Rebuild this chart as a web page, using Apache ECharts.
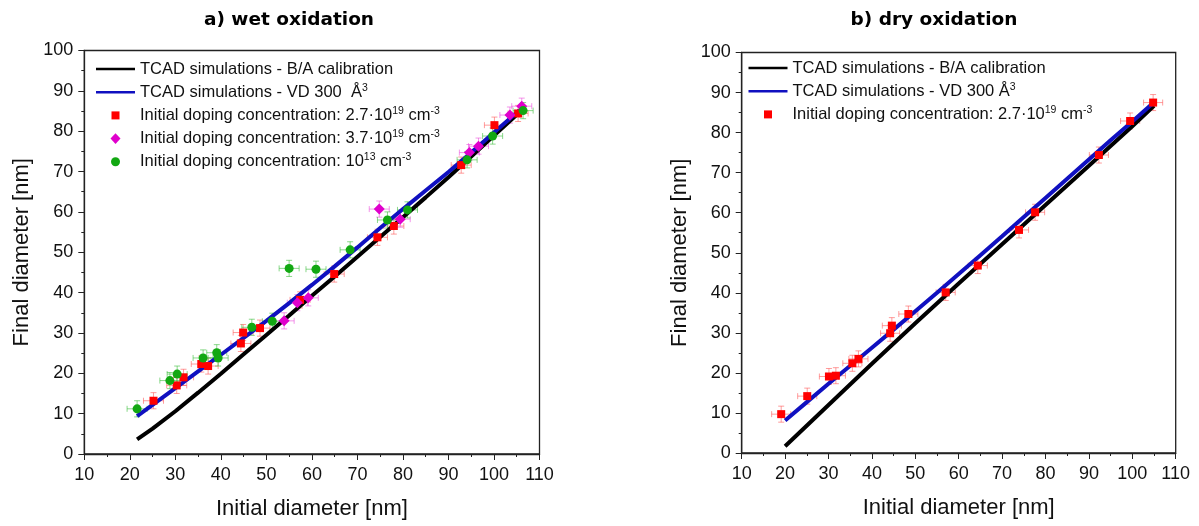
<!DOCTYPE html>
<html><head><meta charset="utf-8">
<script src="https://cdn.jsdelivr.net/npm/echarts@6/dist/echarts.min.js"></script>
<style>html,body{margin:0;padding:0;background:#fff}#c{width:1199px;height:526px}</style>
</head><body><div id="c"></div>
<script>
// ---------- a) wet oxidation ----------
const wetLineX   = [21.6,25,30,35,40,45,50,55,60,65,70,75,80,85,90,95,100,105.6];
const wetBAY     = [3.6,6.3,10.6,15.2,19.9,24.7,29.5,34.3,39.2,44.0,48.9,53.8,58.7,63.6,68.6,73.7,78.9,84.7];
const wetVDY     = [9.4,12.2,16.3,20.5,24.6,28.8,33.0,37.4,41.9,46.5,51.2,56.0,60.7,65.3,69.9,74.7,79.7,85.2];
const wetRedX    = [25.2,30.3,31.8,35.7,37.2,44.4,44.9,48.6,57.4,64.9,74.4,78.0,92.8,100.1,105.3];
const wetRedY    = [13.2,17.0,19.0,22.3,21.8,27.4,30.1,31.2,38.2,44.6,53.7,56.5,71.6,81.5,84.4];
const wetMagX    = [53.9,56.8,59.2,74.8,79.4,94.6,96.6,103.5,106.1];
const wetMagY    = [33.0,37.5,38.7,60.7,58.2,74.7,76.3,84.0,86.2];
const wetGreenX  = [21.6,28.8,30.4,36.1,39.1,39.4,46.8,51.3,55.0,60.9,68.4,76.6,81.0,94.1,99.7,106.4];
const wetGreenY  = [11.2,18.2,19.8,23.8,25.1,23.8,31.4,32.9,46.0,45.8,50.6,58.0,60.5,72.9,78.8,85.1];
// ---------- b) dry oxidation ----------
const dryBAX     = [20,30,40,50,60,70,80,90,100,105];
const dryBAY     = [1.7,12.0,22.3,32.4,42.3,52.1,61.9,71.7,81.6,86.7];
const dryVDX     = [20,25,30,35,40,45,50,55,60,65,70,75,80,85,90,95,100,105];
const dryVDY     = [8.1,12.7,17.3,21.8,26.3,30.8,35.4,40.0,44.7,49.4,54.1,58.9,63.7,68.5,73.3,78.1,82.8,87.6];
const dryRedX    = [19.1,25.1,30.1,31.7,35.5,36.9,44.2,44.6,48.4,57.0,64.4,73.9,77.6,92.3,99.5,104.8];
const dryRedY    = [9.7,14.2,19.1,19.3,22.4,23.5,29.9,31.8,34.7,40.1,46.8,55.7,60.1,74.4,82.9,87.5];
// error bars (nm)
const errX = [2.2];
const errY = [2.0];
// texts
const titles = ['a) wet oxidation', 'b) dry oxidation'];
const xName = 'Initial diameter [nm]';
const yName = 'Final diameter [nm]';
const nBA = 'TCAD simulations - B/A calibration';
const nVDa = 'TCAD simulations - VD 300  Å3';
const nVDb = 'TCAD simulations - VD 300 Å3';
const nRed = 'Initial doping concentration: 2.7·1019 cm-3';
const nMag = 'Initial doping concentration: 3.7·1019 cm-3';
const nGreen = 'Initial doping concentration: 1013 cm-3';
const richNames = {};
richNames[nBA] = nBA;
richNames[nVDa] = 'TCAD simulations - VD 300  Å{s|3}';
richNames[nVDb] = 'TCAD simulations - VD 300 Å{s|3}';
richNames[nRed] = 'Initial doping concentration: 2.7·10{s|19} cm{s|-3}';
richNames[nMag] = 'Initial doping concentration: 3.7·10{s|19} cm{s|-3}';
richNames[nGreen] = 'Initial doping concentration: 10{s|13} cm{s|-3}';

const FONT = '"Liberation Sans", Arial, sans-serif';
const zip = (a, b) => a.map((v, i) => [v, b[i]]);
const zipErr = (a, b) => a.map((v, i) => [v, b[i], errX[0], errY[0]]);

// legend icons (bounding box = full legend item box 39x11)
const BOX = 'path://M0,0M39,11';
const iconLine = BOX + 'M0,4.2L39,4.2L39,6.8L0,6.8Z';
const iconRect = BOX + 'M15.5,1.5L23.5,1.5L23.5,9.5L15.5,9.5Z';
const iconDiam = BOX + 'M19.5,0.2L24.5,5.5L19.5,10.8L14.5,5.5Z';
const iconCirc = BOX + 'M15,5.5A4.5,4.5,0,1,1,24,5.5A4.5,4.5,0,1,1,15,5.5Z';

function errBar(color) {
  return function (params, api) {
    const x = api.value(0), y = api.value(1), ex = api.value(2), ey = api.value(3);
    const l = api.coord([x - ex, y]), r = api.coord([x + ex, y]);
    const t = api.coord([x, y + ey]), b = api.coord([x, y - ey]);
    const c = 3;
    const st = { stroke: color, lineWidth: 1 };
    const seg = (x1, y1, x2, y2) => ({ type: 'line', shape: { x1, y1, x2, y2 }, style: st });
    return { type: 'group', children: [
      seg(l[0], l[1], r[0], r[1]),
      seg(l[0], l[1] - c, l[0], l[1] + c),
      seg(r[0], r[1] - c, r[0], r[1] + c),
      seg(t[0], t[1], b[0], b[1]),
      seg(t[0] - c, t[1], t[0] + c, t[1]),
      seg(b[0] - c, b[1], b[0] + c, b[1])
    ]};
  };
}

function xAxis(gi) {
  return {
    gridIndex: gi, type: 'value', min: 10, max: 110, interval: 10,
    name: xName, nameLocation: 'middle', nameGap: 44,
    nameTextStyle: { fontFamily: FONT, fontSize: 22, color: '#111' },
    axisLine: { lineStyle: { color: '#222', width: 1.3 } },
    axisTick: { length: 6, lineStyle: { color: '#222' } },
    minorTick: { show: true, splitNumber: 2, length: 3, lineStyle: { color: '#222' } },
    axisLabel: { fontFamily: FONT, fontSize: 18, color: '#111', margin: 12 },
    splitLine: { show: false }
  };
}
function yAxis(gi) {
  return {
    gridIndex: gi, type: 'value', min: 0, max: 100, interval: 10,
    name: yName, nameLocation: 'middle', nameGap: 51,
    nameTextStyle: { fontFamily: FONT, fontSize: 22, color: '#111' },
    axisLine: { show: true, lineStyle: { color: '#222', width: 1.3 } },
    axisTick: { show: true, length: 6, lineStyle: { color: '#222' } },
    minorTick: { show: true, splitNumber: 2, length: 3, lineStyle: { color: '#222' } },
    axisLabel: { fontFamily: FONT, fontSize: 18, color: '#111', margin: 11 },
    splitLine: { show: false }
  };
}
function legend(left, top, data) {
  return {
    orient: 'vertical', left: left, top: top, padding: 0,
    itemWidth: 39, itemHeight: 11, itemGap: 3.2,
    symbolKeepAspect: true,
    data: data,
    formatter: n => richNames[n],
    textStyle: { fontFamily: FONT, fontSize: 16.5, color: '#111', lineHeight: 20,
      rich: { s: { fontFamily: FONT, fontSize: 10.5, color: '#111', verticalAlign: 'top', lineHeight: 11 } } }
  };
}

const cBlack = '#000000', cBlue = '#1010c0', cRed = '#ff0000', cMag = '#e000cc', cGreen = '#12a812';
const lineS = (name, gi, x, y, color) => ({
  name, type: 'line', xAxisIndex: gi, yAxisIndex: gi, data: zip(x, y), symbol: 'none',
  lineStyle: { color, width: 4 }, itemStyle: { color }, z: 3, animation: false
});
const errS = (gi, x, y, color) => ({
  type: 'custom', xAxisIndex: gi, yAxisIndex: gi, data: zipErr(x, y),
  renderItem: errBar(color), z: 2, silent: true, animation: false,
  encode: { x: 0, y: 1 }
});
const scat = (name, gi, x, y, color, symbol, size, z) => ({
  name, type: 'scatter', xAxisIndex: gi, yAxisIndex: gi, data: zip(x, y),
  symbol, symbolSize: size, itemStyle: { color, opacity: 1 }, z: z, animation: false
});

const titleStyle = { fontFamily: '"DejaVu Sans", sans-serif', fontWeight: 'bold', fontSize: 18.5, color: '#000' };
const option = {
  animation: false,
  backgroundColor: '#fff',
  title: [
    { text: titles[0], left: 284, top: 6, textAlign: 'center', textStyle: titleStyle },
    { text: titles[1], left: 929, top: 6, textAlign: 'center', textStyle: titleStyle }
  ],
  grid: [
    { left: 84.3, top: 50.5, width: 455.2, height: 403.5, show: true, borderColor: '#222', borderWidth: 1.3, backgroundColor: 'transparent' },
    { left: 741.7, top: 52.5, width: 434, height: 400.5, show: true, borderColor: '#222', borderWidth: 1.3, backgroundColor: 'transparent' }
  ],
  xAxis: [xAxis(0), xAxis(1)],
  yAxis: [yAxis(0), yAxis(1)],
  legend: [
    legend(96, 59, [
      { name: nBA, icon: iconLine }, { name: nVDa, icon: iconLine },
      { name: nRed, icon: iconRect }, { name: nMag, icon: iconDiam }, { name: nGreen, icon: iconCirc }]),
    legend(748.5, 58, [
      { name: nBA, icon: iconLine }, { name: nVDb, icon: iconLine }, { name: nRed, icon: iconRect }])
  ],
  series: [
    errS(0, wetRedX, wetRedY, 'rgba(255,90,90,0.6)'),
    errS(0, wetMagX, wetMagY, 'rgba(235,80,220,0.6)'),
    errS(0, wetGreenX, wetGreenY, 'rgba(60,190,60,0.6)'),
    lineS(nBA, 0, wetLineX, wetBAY, cBlack),
    lineS(nVDa, 0, wetLineX, wetVDY, cBlue),
    scat(nRed, 0, wetRedX, wetRedY, cRed, 'rect', 8, 4),
    scat(nMag, 0, wetMagX, wetMagY, cMag, 'diamond', 11, 5),
    scat(nGreen, 0, wetGreenX, wetGreenY, cGreen, 'circle', 9, 6),
    errS(1, dryRedX, dryRedY, 'rgba(255,90,90,0.6)'),
    lineS(nBA, 1, dryBAX, dryBAY, cBlack),
    lineS(nVDb, 1, dryVDX, dryVDY, cBlue),
    scat(nRed, 1, dryRedX, dryRedY, cRed, 'rect', 8, 4)
  ]
};
const chart = echarts.init(document.getElementById('c'), null, { renderer: 'canvas' });
chart.setOption(option);
</script></body></html>
